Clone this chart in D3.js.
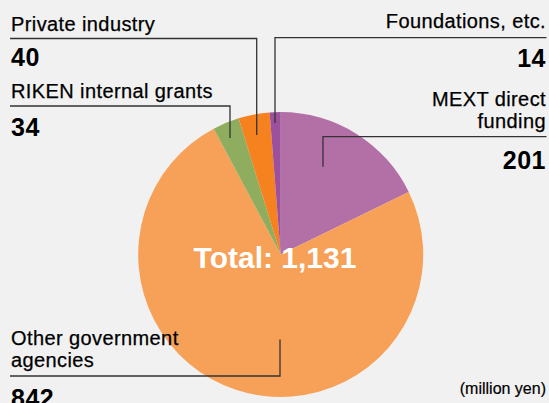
<!DOCTYPE html>
<html>
<head>
<meta charset="utf-8">
<script src="https://cdn.jsdelivr.net/npm/d3@7"></script>
<style>
  html, body { margin: 0; padding: 0; background: #f1f1f1; }
  svg { display: block; font-family: "Liberation Sans", Arial, Helvetica, sans-serif; }
</style>
</head>
<body>
<div id="chart"></div>
<script>
const categories = ["MEXT direct funding", "Other government agencies", "RIKEN internal grants", "Private industry", "Foundations, etc."];
const values = [201, 842, 34, 40, 14];
const colors = ["#b370a6", "#f7a058", "#8fad5f", "#f5821f", "#9d509b"];
const totalLabel = "Total: 1,131";
const unitLabel = "(million yen)";

const W = 549, H = 403;
const svg = d3.select("#chart").append("svg").attr("width", W).attr("height", H);
svg.append("rect").attr("width", W).attr("height", H).attr("fill", "#f1f1f1");

const cx = 280.7, cy = 254.5, R = 142.5;
const data = categories.map((c, i) => ({ name: c, value: values[i], color: colors[i] }));
const pie = d3.pie().value(d => d.value).sort(null).startAngle(0).endAngle(2 * Math.PI);
const arc = d3.arc().innerRadius(0).outerRadius(R);

const g = svg.append("g").attr("transform", `translate(${cx},${cy})`);
g.selectAll("path").data(pie(data)).join("path")
  .attr("d", arc)
  .attr("fill", d => d.data.color);

// Total
svg.append("text").attr("x", 275).attr("y", 268).attr("text-anchor", "middle")
  .attr("fill", "#ffffff").attr("font-weight", "bold").attr("font-size", 30)
  .text(totalLabel);

// label layout (positions kept separate from data)
const layout = {
  "Private industry": { anchor: "start", x: 11, lines: [31], numY: 66, path: [[10, 38.5], [256.7, 38.5], [256.7, 135]] },
  "RIKEN internal grants": { anchor: "start", x: 11, lines: [98], numY: 136, path: [[10, 106], [230, 106], [230, 138]] },
  "Foundations, etc.": { anchor: "end", x: 546, lines: [28], numY: 66.5, path: [[546.5, 37.7], [275, 37.7], [275, 123]] },
  "MEXT direct funding": { anchor: "end", x: 546, lines: [106, 128], text: ["MEXT direct", "funding"], numY: 169, path: [[546.5, 136.7], [323, 136.7], [323, 166.7]] },
  "Other government agencies": { anchor: "start", x: 11, lines: [345, 366.5], text: ["Other government", "agencies"], numY: 407, path: [[10, 376], [280, 376], [280, 339.5]] }
};

const labels = svg.append("g");
data.forEach(d => {
  const L = layout[d.name];
  labels.append("path")
    .attr("d", d3.line()(L.path))
    .attr("fill", "none").attr("stroke", "#333").attr("stroke-width", 1.3);
  const txt = L.text || [d.name];
  txt.forEach((t, i) => {
    labels.append("text").attr("x", L.x).attr("y", L.lines[i])
      .attr("text-anchor", L.anchor).attr("font-size", 20).attr("letter-spacing", 0.4)
      .attr("fill", "#000").attr("stroke", "#000").attr("stroke-width", 0.25).text(t);
  });
  labels.append("text").attr("x", L.x).attr("y", L.numY)
    .attr("text-anchor", L.anchor).attr("font-size", 25).attr("font-weight", "bold")
    .attr("letter-spacing", 0.5).attr("fill", "#000").text(d.value);
});

svg.append("text").attr("x", 546).attr("y", 394).attr("text-anchor", "end")
  .attr("font-size", 16).attr("fill", "#000").attr("stroke", "#000").attr("stroke-width", 0.2).text(unitLabel);
</script>
</body>
</html>
